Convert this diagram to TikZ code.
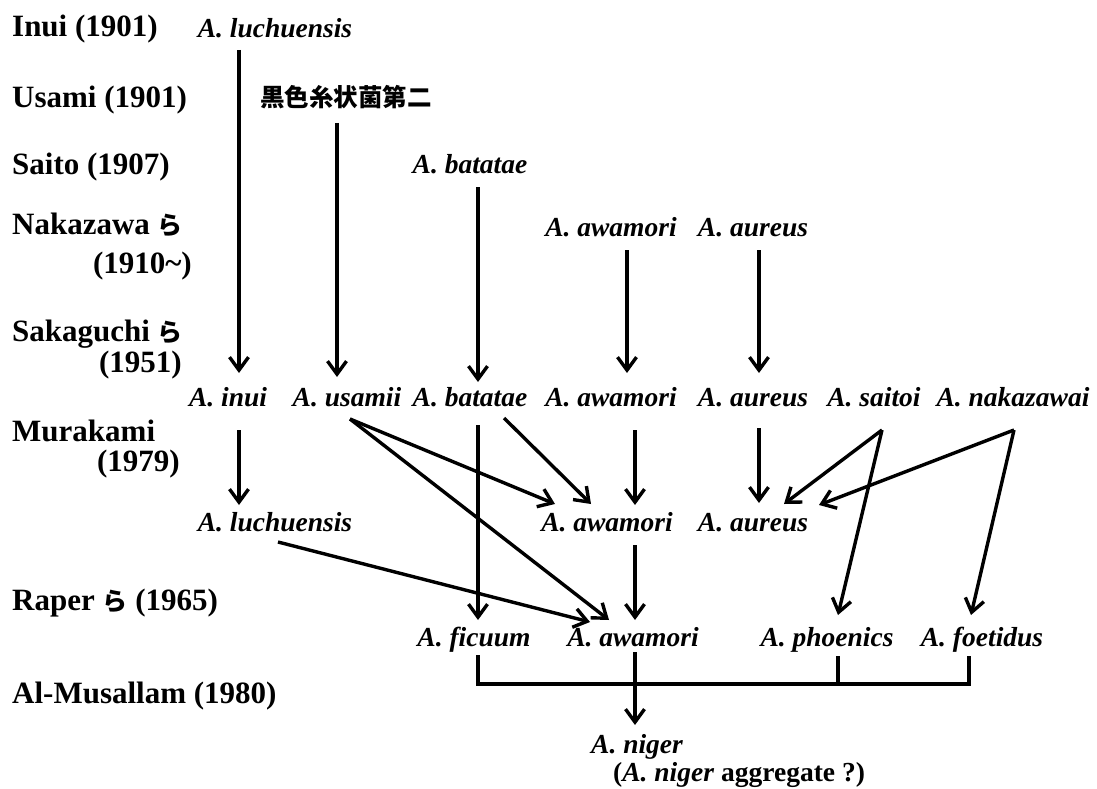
\documentclass[tikz,border=0pt]{standalone}
\usepackage{fontspec}
\setmainfont{Liberation Serif}
\newfontfamily\jp{Noto Sans CJK JP}
\usetikzlibrary{arrows.meta}
\tikzset{
  lab/.style={font=\fontsize{31}{36}\selectfont\bfseries, inner sep=0pt, anchor=base west},
  labr/.style={font=\fontsize{31}{36}\selectfont\bfseries, inner sep=0pt, anchor=base east},
  sp/.style={font=\fontsize{27.5}{32}\selectfont\bfseries\itshape, inner sep=0pt, anchor=base},
  arr/.style={line width=3.4pt, -{Straight Barb[length=13pt,width=19pt,line width=3.4pt]}},
  brk/.style={line width=3.6pt, line join=miter, line cap=rect},
}
\newcommand{\ra}{{\jp\fontsize{25}{30}\selectfont\bfseries ら}}
\begin{document}
\begin{tikzpicture}[x=1pt,y=-1pt]
\useasboundingbox (0,0) rectangle (1097,789);
\fill[white] (0,0) rectangle (1097,789);

% left labels
\node[lab] (l1) at (12,37) {Inui (1901)};
\node[lab] (l2) at (12,108) {Usami (1901)};
\node[lab] (l3) at (12,174) {Saito (1907)};
\node[lab] (l4a) at (12,234) {Nakazawa \ra};
\node[labr] (l4b) at (192,273) {(1910\textasciitilde)};
\node[lab] (l5a) at (12,341) {Sakaguchi \ra};
\node[labr] (l5b) at (182,372) {(1951)};
\node[lab] (l6a) at (12,441) {Murakami};
\node[labr] (l6b) at (180,471) {(1979)};
\node[lab] (l7) at (12,610) {Raper \ra{} (1965)};
\node[lab] (l8) at (12,703) {Al-Musallam (1980)};

% species
\node[sp] (luch1) at (275,38) {A. luchuensis};
\node[inner sep=0pt, anchor=base, font=\jp\fontsize{24.5}{30}\selectfont\bfseries] (kanji) at (346,107) {黒色糸状菌第二};
\node[sp] (bat1) at (470,173) {A. batatae};
\node[sp] (awa1) at (611,236) {A. awamori};
\node[sp] (aur1) at (753,236) {A. aureus};

\node[sp] (inui) at (228,406) {A. inui};
\node[sp] (usamii) at (347,406) {A. usamii};
\node[sp] (bat2) at (470,406) {A. batatae};
\node[sp] (awa2) at (611,406) {A. awamori};
\node[sp] (aur2) at (753,406) {A. aureus};
\node[sp] (saitoi) at (874,406) {A. saitoi};
\node[sp] (naka) at (1013,406) {A. nakazawai};

\node[sp] (luch3) at (275,531) {A. luchuensis};
\node[sp] (awa3) at (607,531) {A. awamori};
\node[sp] (aur3) at (753,531) {A. aureus};

\node[sp] (ficuum) at (474,646) {A. ficuum};
\node[sp] (awa4) at (633,646) {A. awamori};
\node[sp] (phoen) at (827,646) {A. phoenics};
\node[sp] (foet) at (982,646) {A. foetidus};

\node[sp] (niger) at (637,753) {A. niger};
\node[inner sep=0pt, anchor=base west, font=\fontsize{27.5}{32}\selectfont\bfseries] (agg) at (613,781) {(\textit{A. niger} aggregate ?)};

% connectors
\draw[arr] ([shift={(-36,12)}]luch1.base) -- ([shift={(11,-33)}]inui.base);
\draw[arr] ([shift={(-9,16)}]kanji.base) -- ([shift={(-10,-29)}]usamii.base);
\draw[arr] ([shift={(8,14)}]bat1.base) -- ([shift={(8,-24)}]bat2.base);
\draw[arr] ([shift={(16,14)}]awa1.base) -- ([shift={(16,-33)}]awa2.base);
\draw[arr] ([shift={(6,14)}]aur1.base) -- ([shift={(6,-33)}]aur2.base);

\draw[arr] ([shift={(11,24)}]inui.base) -- ([shift={(-36,-26)}]luch3.base);
\draw[arr] ([shift={(3,13)}]usamii.base) -- ([shift={(-52,-27)}]awa3.base);
\draw[arr] ([shift={(3,13)}]usamii.base) -- ([shift={(-24,-26)}]awa4.base);
\draw[arr] ([shift={(8,19)}]bat2.base) -- ([shift={(4,-26)}]ficuum.base);
\draw[arr] ([shift={(34,12)}]bat2.base) -- ([shift={(-16,-27)}]awa3.base);
\draw[arr] ([shift={(24,24)}]awa2.base) -- ([shift={(28,-26)}]awa3.base);
\draw[arr] ([shift={(6,22)}]aur2.base) -- ([shift={(6,-28)}]aur3.base);
\draw[arr] ([shift={(8,24)}]saitoi.base) -- ([shift={(31,-27)}]aur3.base);
\draw[arr] ([shift={(8,24)}]saitoi.base) -- ([shift={(11,-31)}]phoen.base);
\draw[arr] ([shift={(1,24)}]naka.base) -- ([shift={(66,-26)}]aur3.base);
\draw[arr] ([shift={(1,24)}]naka.base) -- ([shift={(-11,-31)}]foet.base);

\draw[arr] ([shift={(3,11)}]luch3.base) -- ([shift={(-43,-24)}]awa4.base);
\draw[arr] ([shift={(28,14)}]awa3.base) -- ([shift={(2,-26)}]awa4.base);

% bracket
\draw[brk] ([shift={(4,11)}]ficuum.base) -- ([shift={(4,38)}]ficuum.base)
  -- ([shift={(-13,38)}]foet.base) -- ([shift={(-13,12)}]foet.base);
\draw[brk] ([shift={(11,12)}]phoen.base) -- ([shift={(11,38)}]phoen.base);
\draw[arr] ([shift={(2,6)}]awa4.base) -- ([shift={(-2,-28)}]niger.base);
\end{tikzpicture}
\end{document}
